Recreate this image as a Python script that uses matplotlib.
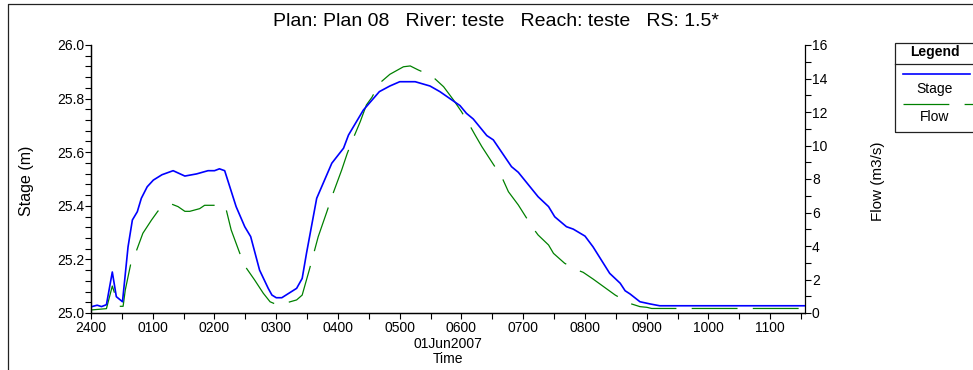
import matplotlib
matplotlib.use("Agg")
import matplotlib.pyplot as plt
from matplotlib.lines import Line2D
from matplotlib.patches import Rectangle
from matplotlib.ticker import MultipleLocator, FixedLocator

plt.rcParams['font.family'] = ['Liberation Sans', 'DejaVu Sans']
plt.rcParams['lines.scale_dashes'] = False

# time in hours after 2400 on 31May2007
stage_t = [0, 0.10, 0.17, 0.25, 0.345, 0.41, 0.51, 0.60, 0.67, 0.75, 0.815, 0.91,
           1.01, 1.15, 1.33, 1.52, 1.71, 1.895, 2.0, 2.08, 2.165, 2.35, 2.49, 2.586,
           2.73, 2.87, 2.93, 3.0, 3.09, 3.33, 3.42, 3.49, 3.655, 3.90, 4.09, 4.17,
           4.41, 4.67, 4.84, 5.0, 5.25, 5.49, 5.65, 5.975, 6.08, 6.19, 6.41, 6.515,
           6.81, 6.92, 7.24, 7.41, 7.51, 7.70, 7.81, 8.0, 8.13, 8.40, 8.57, 8.65,
           8.73, 8.89, 9.05, 9.21, 11.56]
stage = [25.023, 25.029, 25.024, 25.031, 25.153, 25.061, 25.042, 25.247, 25.347,
         25.378, 25.428, 25.471, 25.496, 25.516, 25.531, 25.511, 25.519, 25.531,
         25.531, 25.538, 25.531, 25.397, 25.322, 25.285, 25.160, 25.092, 25.067,
         25.057, 25.057, 25.092, 25.129, 25.223, 25.428, 25.559, 25.615, 25.664,
         25.757, 25.826, 25.847, 25.863, 25.863, 25.847, 25.826, 25.774, 25.745,
         25.724, 25.662, 25.646, 25.546, 25.525, 25.434, 25.397, 25.359, 25.322,
         25.313, 25.287, 25.247, 25.148, 25.111, 25.083, 25.071, 25.042, 25.034,
         25.027, 25.027]

flow_t = [0, 0.25, 0.345, 0.45, 0.52, 0.555, 0.64, 0.73, 0.84, 0.98, 1.085, 1.30,
          1.41, 1.52, 1.60, 1.76, 1.84, 1.99, 2.175, 2.27, 2.39, 2.48, 2.65, 2.79,
          2.90, 3.02, 3.14, 3.33, 3.42, 3.535, 3.60, 3.68, 3.82, 3.90, 4.06, 4.15,
          4.24, 4.36, 4.46, 4.55, 4.67, 4.84, 5.06, 5.17, 5.30, 5.52, 5.71, 5.87,
          6.00, 6.13, 6.22, 6.33, 6.515, 6.65, 6.76, 6.92, 7.04, 7.17, 7.24, 7.41,
          7.49, 7.67, 7.87, 7.97, 8.13, 8.49, 8.72, 8.89, 9.0, 9.08, 11.56]
flow = [0.18, 0.26, 1.61, 0.4, 0.4, 1.37, 2.87, 3.66, 4.76, 5.55, 6.09, 6.51, 6.35,
        6.07, 6.07, 6.23, 6.43, 6.43, 6.39, 4.96, 3.76, 2.87, 1.97, 1.18, 0.67, 0.48,
        0.58, 0.78, 1.07, 2.57, 3.46, 4.56, 6.05, 6.94, 8.54, 9.53, 10.37, 11.42,
        12.42, 12.88, 13.71, 14.25, 14.7, 14.75, 14.51, 14.15, 13.51, 12.72, 12.02,
        11.22, 10.63, 9.93, 8.88, 8.14, 7.24, 6.45, 5.75, 5.01, 4.66, 4.06, 3.56,
        2.97, 2.57, 2.43, 2.03, 1.07, 0.58, 0.38, 0.34, 0.27, 0.27]

hour_ticks = list(range(12))
hour_labels = ['2400', '0100', '0200', '0300', '0400', '0500', '0600', '0700',
               '0800', '0900', '1000', '1100']

W, H = 973, 370
fig = plt.figure(figsize=(W / 100, H / 100), dpi=100)
ax = fig.add_axes([91 / W, 1 - 313 / H, (805 - 91) / W, (313 - 45) / H])
ax2 = ax.twinx()

ax2.plot(flow_t, flow, color='#008000', lw=0.9, dashes=(33, 11))
ax.plot(stage_t, stage, color='#0000ff', lw=1.2)
ax.set_zorder(ax2.get_zorder() + 1)
ax.patch.set_visible(False)

ax.set_xlim(0, 11.563)
ax.set_ylim(25.0, 26.0)
ax2.set_ylim(0, 16)

ax.xaxis.set_major_locator(FixedLocator(hour_ticks))
ax.set_xticklabels(hour_labels)
ax.xaxis.set_minor_locator(MultipleLocator(0.5))
ax.yaxis.set_major_locator(MultipleLocator(0.2))
ax.yaxis.set_minor_locator(MultipleLocator(0.04))
ax.yaxis.set_major_formatter(matplotlib.ticker.FormatStrFormatter('%.1f'))
ax2.yaxis.set_major_locator(MultipleLocator(2))
ax2.yaxis.set_minor_locator(MultipleLocator(1))

for a in (ax, ax2):
    a.spines['top'].set_visible(False)
    for s in a.spines.values():
        s.set_linewidth(0.9)
    a.tick_params(which='both', direction='out', length=4, width=0.8,
                  labelsize=10, pad=1)
ax.tick_params(axis='x', pad=2)
ax.spines['right'].set_visible(False)

fig.text(27 / W, 1 - 181 / H, 'Stage (m)', rotation=90, ha='center', va='center',
         fontsize=11.5)
fig.text(878 / W, 1 - 181 / H, 'Flow (m3/s)', rotation=90, ha='center',
         va='center', fontsize=11)
fig.text(448 / W, 1 - 344 / H, '01Jun2007', ha='center', va='center', fontsize=10)
fig.text(448 / W, 1 - 359 / H, 'Time', ha='center', va='center', fontsize=10)
fig.text(496 / W, 1 - 21 / H, 'Plan: Plan 08   River: teste   Reach: teste   RS: 1.5*',
         ha='center', va='center', fontsize=14)

# outer frame (top and left edges visible)
fig.add_artist(Line2D([8 / W, 8 / W, 1.0], [0, 1 - 4 / H, 1 - 4 / H],
                      transform=fig.transFigure, color='#222222', lw=0.9))

# legend box
fig.add_artist(Rectangle((895 / W, 1 - 132 / H), 120 / W, 89 / H,
                         transform=fig.transFigure, fill=False,
                         edgecolor='#222222', lw=0.9))
fig.add_artist(Line2D([895 / W, 1.0], [1 - 64 / H, 1 - 64 / H],
                      transform=fig.transFigure, color='#222222', lw=0.9))
fig.text(935 / W, 1 - 52 / H, 'Legend', ha='center', va='center', fontsize=10,
         fontweight='bold')
fig.add_artist(Line2D([903 / W, 970 / W], [1 - 73.5 / H, 1 - 73.5 / H],
                      transform=fig.transFigure, color='#0000ff', lw=1.2))
fig.text(935 / W, 1 - 88.5 / H, 'Stage', ha='center', va='center', fontsize=10)
fig.add_artist(Line2D([903 / W, 1.0], [1 - 104 / H, 1 - 104 / H],
                      transform=fig.transFigure, color='#008000', lw=0.9,
                      dashes=(33, 11)))
fig.text(935 / W, 1 - 117 / H, 'Flow', ha='center', va='center', fontsize=10)

fig.savefig('out.png', dpi=100)
